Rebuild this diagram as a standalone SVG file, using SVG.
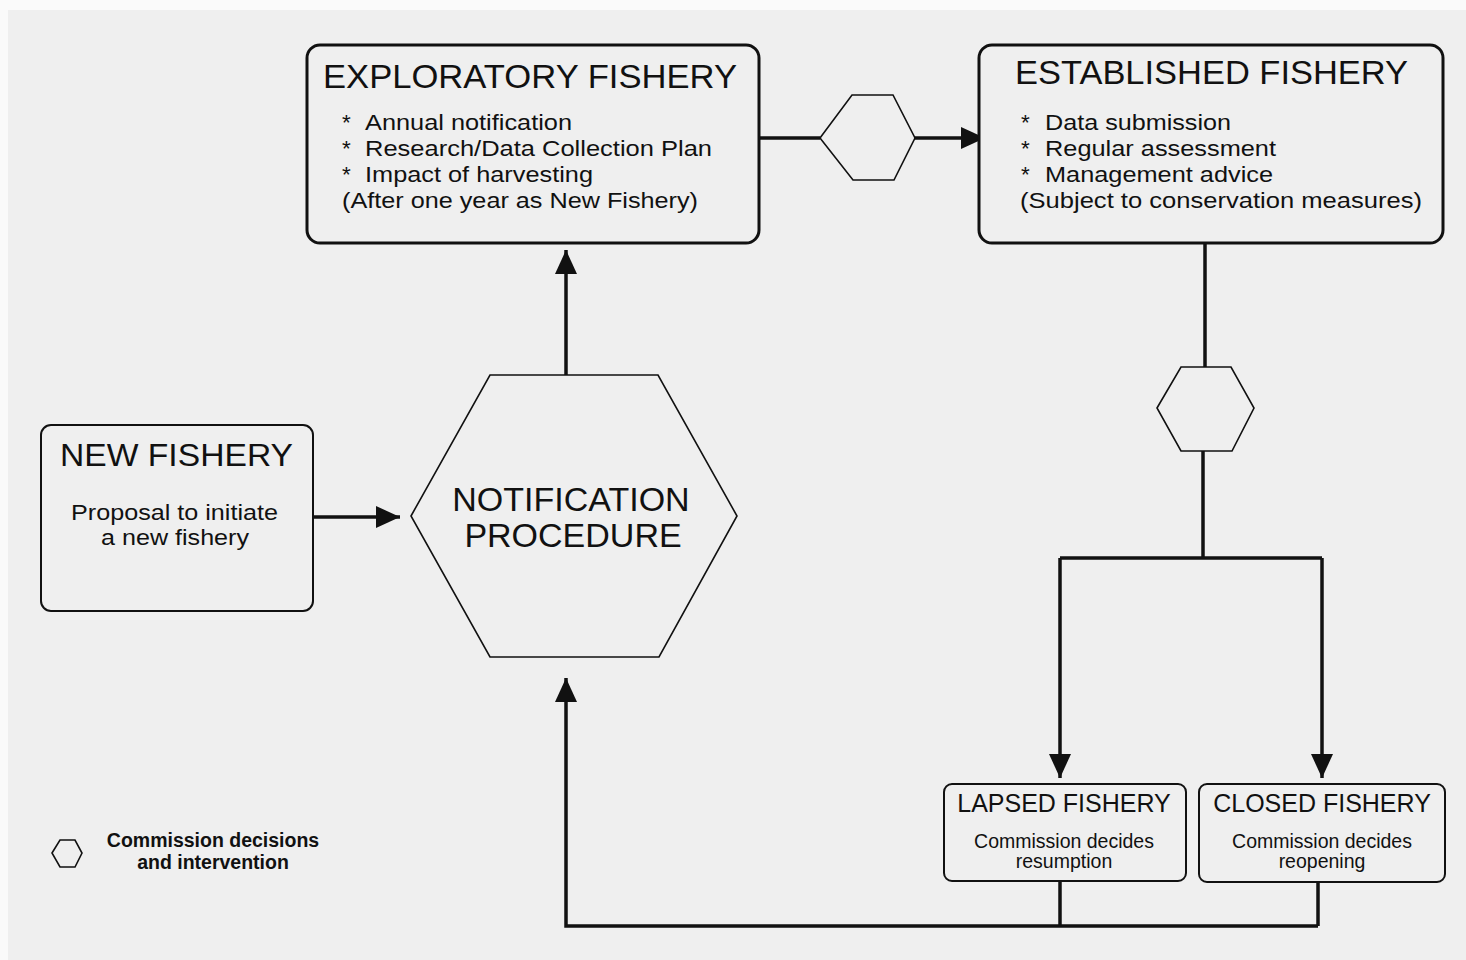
<svg xmlns="http://www.w3.org/2000/svg" width="1466" height="960" viewBox="0 0 1466 960">
<style>
.bg{fill:#efefef}
.box{fill:#efefef;stroke:#111;stroke-width:3}
.box2{fill:#efefef;stroke:#111;stroke-width:2}
.hex{fill:#efefef;stroke:#111;stroke-width:1.6}
.ln{fill:none;stroke:#111;stroke-width:3.5}
text{font-family:"Liberation Sans",Arial,sans-serif;fill:#111}
.t1{font-size:34px}
.t2{font-size:22.5px}
.t3{font-size:22.5px}
.t4{font-size:25px}
.t5{font-size:19.5px}
.leg{font-size:19.5px;font-weight:bold}
</style>
<defs>
<marker id="ah" markerUnits="userSpaceOnUse" markerWidth="26" markerHeight="24" refX="24" refY="12" orient="auto">
<path d="M0,1 L24,12 L0,23 Z" fill="#111"/>
</marker>
</defs>
<rect x="0" y="0" width="1466" height="960" fill="#fafafa"/>
<rect class="bg" x="8" y="10" width="1458" height="950"/>

<g id="connectors">
<path class="ln" d="M759,138 H820"/>
<path class="ln" d="M915,138 H985" marker-end="url(#ah)"/>
<path class="ln" d="M566,375 V250" marker-end="url(#ah)"/>
<path class="ln" d="M313,517 H400" marker-end="url(#ah)"/>
<path class="ln" d="M1205,243 V367"/>
<path class="ln" d="M1203,451 V558"/>
<path class="ln" d="M1060,558 H1322"/>
<path class="ln" d="M1060,558 V778" marker-end="url(#ah)"/>
<path class="ln" d="M1322,558 V778" marker-end="url(#ah)"/>
<path class="ln" d="M1060,881 V926"/>
<path class="ln" d="M1318,882 V926"/>
<path class="ln" d="M1318,926 H566 V678" marker-end="url(#ah)"/>
</g>

<g id="exploratory">
<rect class="box" x="307" y="45" width="452" height="198" rx="13"/>
<text class="t1" x="323" y="88" textLength="414" lengthAdjust="spacingAndGlyphs">EXPLORATORY FISHERY</text>
<text class="t2" x="342" y="130">*</text><text class="t2" x="365" y="130" textLength="207" lengthAdjust="spacingAndGlyphs">Annual notification</text>
<text class="t2" x="342" y="156">*</text><text class="t2" x="365" y="156" textLength="347" lengthAdjust="spacingAndGlyphs">Research/Data Collection Plan</text>
<text class="t2" x="342" y="182">*</text><text class="t2" x="365" y="182" textLength="228" lengthAdjust="spacingAndGlyphs">Impact of harvesting</text>
<text class="t2" x="342" y="208" textLength="356" lengthAdjust="spacingAndGlyphs">(After one year as New Fishery)</text>
</g>

<g id="decision-top">
<polygon class="hex" points="820,138 852,95 893,95 915,138 894,180 853,180"/>
</g>

<g id="established">
<rect class="box" x="979" y="45" width="464" height="198" rx="13"/>
<text class="t1" x="1015" y="84" textLength="393" lengthAdjust="spacingAndGlyphs">ESTABLISHED FISHERY</text>
<text class="t2" x="1021" y="130">*</text><text class="t2" x="1045" y="130" textLength="186" lengthAdjust="spacingAndGlyphs">Data submission</text>
<text class="t2" x="1021" y="156">*</text><text class="t2" x="1045" y="156" textLength="231" lengthAdjust="spacingAndGlyphs">Regular assessment</text>
<text class="t2" x="1021" y="182">*</text><text class="t2" x="1045" y="182" textLength="228" lengthAdjust="spacingAndGlyphs">Management advice</text>
<text class="t2" x="1020" y="208" textLength="402" lengthAdjust="spacingAndGlyphs">(Subject to conservation measures)</text>
</g>

<g id="decision-right">
<polygon class="hex" points="1157,408 1181,367 1231,367 1254,408 1232,451 1181,451"/>
</g>

<g id="new-fishery">
<rect class="box2" x="41" y="425" width="272" height="186" rx="10"/>
<text class="t1" x="60" y="466" style="font-size:32px" textLength="233" lengthAdjust="spacingAndGlyphs">NEW FISHERY</text>
<text class="t3" x="71" y="520" textLength="207" lengthAdjust="spacingAndGlyphs">Proposal to initiate</text>
<text class="t3" x="101" y="545" textLength="148" lengthAdjust="spacingAndGlyphs">a new fishery</text>
</g>

<g id="notification">
<polygon class="hex" points="411,516 490,375 658,375 737,516 659,657 490,657"/>
<text class="t1" x="571" y="511" text-anchor="middle">NOTIFICATION</text>
<text class="t1" x="573" y="547" text-anchor="middle">PROCEDURE</text>
</g>

<g id="lapsed">
<rect class="box2" x="944" y="784" width="242" height="97" rx="8"/>
<text class="t4" x="1064" y="812" text-anchor="middle">LAPSED FISHERY</text>
<text class="t5" x="1064" y="848" text-anchor="middle">Commission decides</text>
<text class="t5" x="1064" y="868" text-anchor="middle">resumption</text>
</g>

<g id="closed">
<rect class="box2" x="1199" y="784" width="246" height="98" rx="8"/>
<text class="t4" x="1322" y="812" text-anchor="middle">CLOSED FISHERY</text>
<text class="t5" x="1322" y="848" text-anchor="middle">Commission decides</text>
<text class="t5" x="1322" y="868" text-anchor="middle">reopening</text>
</g>

<g id="legend">
<polygon class="hex" points="52,853 60,840 75,840 82,853 75,867 60,867"/>
<text class="leg" x="213" y="847" text-anchor="middle">Commission decisions</text>
<text class="leg" x="213" y="869" text-anchor="middle">and intervention</text>
</g>
</svg>
